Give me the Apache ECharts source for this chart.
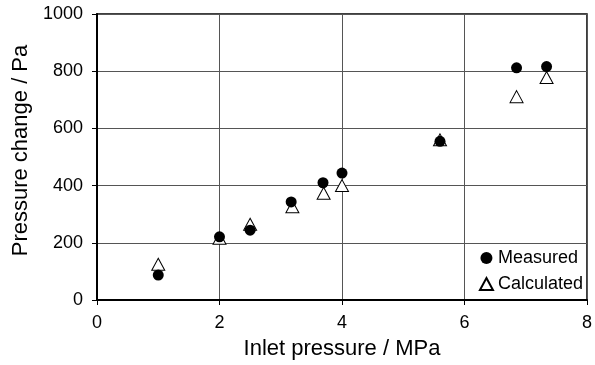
<!DOCTYPE html>
<html>
<head>
<meta charset="utf-8">
<script src="https://cdn.jsdelivr.net/npm/echarts@6/dist/echarts.min.js"></script>
<style>
  html, body { margin: 0; padding: 0; background: #fff; }
  #chart { width: 595px; height: 365px; }
</style>
</head>
<body>
<div id="chart"></div>
<script>
// inlet pressure (MPa) vs pressure change (Pa)
const measuredX = [1.0, 2.0, 2.5, 3.17, 3.69, 4.0, 5.6, 6.85, 7.34];
const measuredY = [87, 221, 244, 343, 410, 444, 555, 812, 816];
const calculatedX = [1.0, 2.0, 2.5, 3.19, 3.7, 4.0, 5.6, 6.85, 7.34];
const calculatedY = [125, 216, 265, 326, 373, 400, 560, 711, 778];

const xTicks = [0, 2, 4, 6, 8];
const yTicks = [0, 200, 400, 600, 800, 1000];

const font = "Liberation Sans, Arial, Helvetica, sans-serif";

function zip(xs, ys) {
  return xs.map((x, i) => [x, ys[i]]);
}

const chart = echarts.init(document.getElementById("chart"), null, { renderer: "canvas" });

chart.setOption({
  animation: false,
  backgroundColor: "#fff",
  textStyle: { fontFamily: font, color: "#000" },
  grid: {
    left: 97,
    right: 4,
    top: 14,
    bottom: 65,
    show: true,
    borderColor: "#000",
    borderWidth: 1.5,
    backgroundColor: "transparent",
  },
  legend: {
    orient: "vertical",
    right: 12,
    bottom: 72,
    padding: 0,
    itemGap: 8,
    itemWidth: 13,
    itemHeight: 12,
    textStyle: { fontFamily: font, fontSize: 18, color: "#000", lineHeight: 18 },
    data: ["Measured", "Calculated"],
  },
  xAxis: {
    type: "value",
    min: xTicks[0],
    max: xTicks[xTicks.length - 1],
    interval: 2,
    name: "Inlet pressure / MPa",
    nameLocation: "middle",
    nameGap: 38,
    nameTextStyle: { fontFamily: font, fontSize: 22, color: "#000" },
    axisLine: { show: true, lineStyle: { color: "#000", width: 2 } },
    axisTick: { show: true, length: 5, lineStyle: { color: "#000", width: 1 } },
    axisLabel: { fontFamily: font, fontSize: 18, color: "#000", margin: 14 },
    splitLine: { show: true, lineStyle: { color: "#555", width: 1 } },
  },
  yAxis: {
    type: "value",
    min: yTicks[0],
    max: yTicks[yTicks.length - 1],
    interval: 200,
    name: "Pressure change / Pa",
    nameLocation: "middle",
    nameGap: 64,
    nameTextStyle: { fontFamily: font, fontSize: 22, color: "#000", padding: [0, 0, 0, 13] },
    axisLine: { show: true, lineStyle: { color: "#000", width: 2 } },
    axisTick: { show: true, length: 5, lineStyle: { color: "#000", width: 1 } },
    axisLabel: {
      fontFamily: font,
      fontSize: 18,
      color: "#000",
      margin: 14,
      formatter: (v) => String(v),
    },
    splitLine: { show: true, lineStyle: { color: "#555", width: 1 } },
  },
  series: [
    {
      name: "Calculated",
      type: "scatter",
      symbol: "triangle",
      symbolSize: [13, 12],
      z: 2,
      itemStyle: { color: "#fff", borderColor: "#000", borderWidth: 1, opacity: 1 },
      data: zip(calculatedX, calculatedY),
    },
    {
      name: "Measured",
      type: "scatter",
      symbol: "circle",
      symbolSize: 11,
      z: 3,
      itemStyle: { color: "#000", opacity: 1 },
      data: zip(measuredX, measuredY),
    },
  ],
});
</script>
</body>
</html>
